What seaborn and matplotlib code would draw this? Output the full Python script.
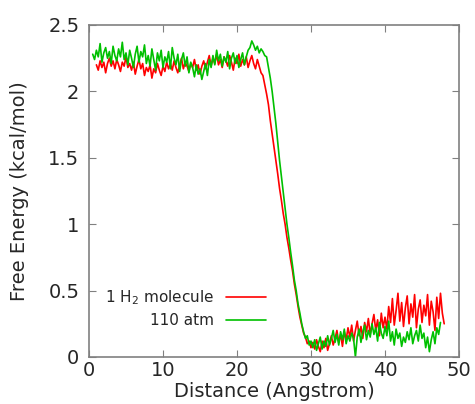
import numpy as np
import pandas as pd
import matplotlib
matplotlib.use("Agg")
import matplotlib.pyplot as plt
import seaborn as sns
from matplotlib.ticker import FuncFormatter

# Style
sns.set_style("ticks")
plt.rcParams["font.family"] = "DejaVu Sans"

# ------------------------------------
# Data
# ------------------------------------

# distance grid of each run (Angstrom)
dist_h2 = np.arange(1.0, 48.001, 0.25)
dist_atm = np.arange(0.5, 47.501, 0.25)

# 1 H2 molecule, free energy (kcal/mol)
fe_h2 = [
    # plateau 1.0 - 22.0
    2.20, 2.16, 2.23, 2.18, 2.22, 2.14, 2.21, 2.25, 2.19, 2.23,
    2.17, 2.24, 2.20, 2.15, 2.22, 2.19, 2.26, 2.18, 2.21, 2.16,
    2.22, 2.13, 2.19, 2.24, 2.17, 2.21, 2.12, 2.18, 2.15, 2.20,
    2.10, 2.17, 2.14, 2.21, 2.16, 2.12, 2.19, 2.15, 2.22, 2.17,
    2.21, 2.16, 2.23, 2.18, 2.14, 2.20, 2.25, 2.17, 2.22, 2.19,
    2.15, 2.21, 2.18, 2.24, 2.16, 2.20, 2.13, 2.19, 2.23, 2.17,
    2.22, 2.27, 2.19, 2.25, 2.21, 2.28, 2.20, 2.24, 2.18, 2.26,
    2.23, 2.19, 2.27, 2.22, 2.16, 2.25, 2.21, 2.28, 2.19, 2.24,
    2.20, 2.26, 2.18, 2.23, 2.27,
    # 22.25 - 23.25
    2.21, 2.17, 2.24, 2.19, 2.14,
    # drop 23.5 - 30.0
    2.12, 2.05, 1.98, 1.90, 1.78, 1.68, 1.58, 1.48, 1.38, 1.27,
    1.18, 1.08, 1.00, 0.90, 0.82, 0.73, 0.65, 0.55, 0.47, 0.38,
    0.30, 0.24, 0.18, 0.15, 0.10, 0.12, 0.07,
    # tail 30.25 - 48.0
    0.11, 0.06, 0.13, 0.08, 0.04, 0.12, 0.07, 0.14, 0.05, 0.10,
    0.16, 0.09, 0.14, 0.20, 0.11, 0.17, 0.08, 0.19, 0.13, 0.22,
    0.15, 0.24, 0.12, 0.20, 0.27, 0.16, 0.23, 0.14, 0.26, 0.19,
    0.29, 0.17, 0.25, 0.32, 0.20, 0.28, 0.16, 0.33, 0.22, 0.30,
    0.21, 0.38, 0.26, 0.44, 0.24, 0.35, 0.48, 0.27, 0.41, 0.23,
    0.37, 0.46, 0.25, 0.40, 0.30, 0.47, 0.22, 0.36, 0.43, 0.26,
    0.39, 0.31, 0.47, 0.24, 0.42, 0.34, 0.20, 0.45, 0.29, 0.48,
    0.33, 0.25,
]

# 110 atm, free energy (kcal/mol)
fe_atm = [
    # plateau 0.5 - 22.0
    2.28, 2.24, 2.31, 2.26, 2.36, 2.22, 2.29, 2.33, 2.25, 2.30,
    2.21, 2.34, 2.27, 2.23, 2.32, 2.26, 2.37, 2.24, 2.29, 2.20,
    2.31, 2.25, 2.18, 2.28, 2.34, 2.22, 2.30, 2.26, 2.35, 2.21,
    2.27, 2.19, 2.32, 2.24, 2.16, 2.29, 2.23, 2.31, 2.18, 2.26,
    2.22, 2.30, 2.17, 2.33, 2.25, 2.20, 2.28, 2.15, 2.24, 2.29,
    2.19, 2.26, 2.14, 2.22, 2.18, 2.11, 2.20, 2.13, 2.17, 2.09,
    2.15, 2.21, 2.12, 2.24, 2.18, 2.27, 2.20, 2.31, 2.23, 2.28,
    2.19, 2.26, 2.22, 2.30, 2.17, 2.25, 2.29, 2.21, 2.27, 2.18,
    2.24, 2.29, 2.20, 2.26, 2.31, 2.33, 2.38,
    # peak 22.25 - 24.0
    2.35, 2.31, 2.34, 2.29, 2.32, 2.30, 2.27, 2.26,
    # drop 24.25 - 30.0
    2.18, 2.10, 2.00, 1.88, 1.76, 1.62, 1.48, 1.36, 1.24, 1.12,
    1.00, 0.90, 0.79, 0.69, 0.58, 0.50, 0.40, 0.33, 0.25, 0.19,
    0.14, 0.16, 0.09, 0.12,
    # tail 30.25 - 47.5
    0.07, 0.13, 0.05, 0.10, 0.15, 0.06, 0.12, 0.08, 0.16, 0.09,
    0.14, 0.20, 0.11, 0.17, 0.09, 0.19, 0.13, 0.21, 0.10, 0.16,
    0.12, 0.18, 0.14, 0.00, 0.15, 0.21, 0.11, 0.19, 0.24, 0.13,
    0.20, 0.15, 0.25, 0.17, 0.22, 0.12, 0.26, 0.18, 0.14, 0.23,
    0.16, 0.27, 0.12, 0.19, 0.09, 0.21, 0.14, 0.18, 0.08, 0.15,
    0.11, 0.19, 0.13, 0.22, 0.10, 0.16, 0.20, 0.12, 0.24, 0.14,
    0.18, 0.07, 0.15, 0.04, 0.13, 0.19, 0.10, 0.22, 0.17, 0.26,
]

labels = ["1 H$_2$ molecule", "110 atm"]
colors = ["#ff0000", "#00c000"]

# ------------------------------------
# Plot
# ------------------------------------

fig = plt.figure(figsize=(4.75, 4.04), dpi=100)
ax = fig.add_axes([89 / 475, 1 - 357 / 404, 370 / 475, 332 / 404])

sns.lineplot(x=dist_h2, y=fe_h2, ax=ax, color=colors[0], lw=1.2, label=labels[0])
sns.lineplot(x=dist_atm, y=fe_atm, ax=ax, color=colors[1], lw=1.2, label=labels[1])

ax.set_xlim(0, 50)
ax.set_ylim(0, 2.5)
ax.set_xticks([0, 10, 20, 30, 40, 50])
ax.set_yticks([0, 0.5, 1, 1.5, 2, 2.5])
ax.yaxis.set_major_formatter(FuncFormatter(lambda v, p: "%g" % v))

ax.set_xlabel("Distance (Angstrom)", fontsize=14, labelpad=1)
ax.set_ylabel("Free Energy (kcal/mol)", fontsize=14, labelpad=14)

for s in ax.spines.values():
    s.set_visible(True)
    s.set_color("#808080")
    s.set_linewidth(1.2)
ax.tick_params(direction="in", top=True, right=True, length=5,
               color="#808080", labelsize=14)
ax.tick_params(axis="x", pad=3)
ax.tick_params(axis="y", pad=7)

ax.legend(loc="center right", bbox_to_anchor=(0.498, 0.146), frameon=False,
          markerfirst=False, fontsize=11, borderpad=0, handlelength=2.6,
          handletextpad=0.8, labelspacing=0.4)

fig.savefig("out.png", dpi=100)
